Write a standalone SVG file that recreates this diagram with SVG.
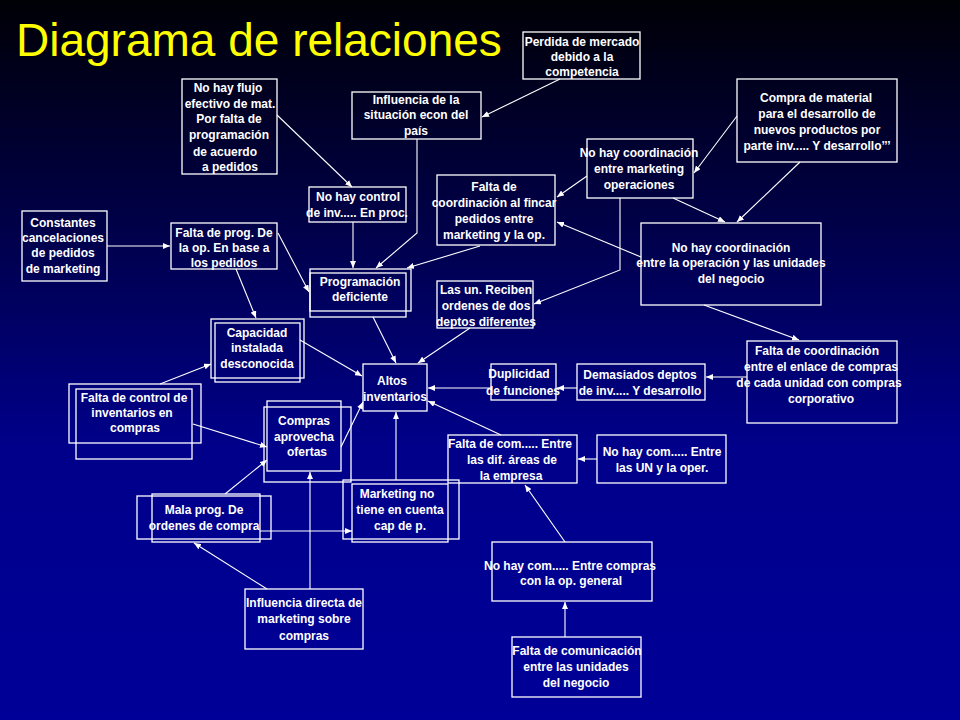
<svg xmlns="http://www.w3.org/2000/svg" width="960" height="720" viewBox="0 0 960 720">
<defs>
<linearGradient id="bg" x1="0" y1="0" x2="0" y2="1">
<stop offset="0" stop-color="#000006"/>
<stop offset="0.62" stop-color="#00008a"/>
<stop offset="1" stop-color="#000098"/>
</linearGradient>
<marker id="ah" markerUnits="userSpaceOnUse" markerWidth="7" markerHeight="6" refX="7" refY="3" orient="auto">
<path d="M0,0 L7,3 L0,6 z" fill="#ffffff"/>
</marker>
<style>
.box{fill:none;stroke:#ffffff;stroke-width:1.3}
.t{font-family:"Liberation Sans",Arial,sans-serif;font-size:12px;font-weight:bold;fill:#ffffff;text-anchor:middle}
.c{fill:none;stroke:#ffffff;stroke-width:1.1;marker-end:url(#ah)}
.title{font-family:"Liberation Sans",Arial,sans-serif;font-size:46px;fill:#ffff00}
</style>
</defs>
<rect x="0" y="0" width="960" height="720" fill="url(#bg)"/>
<g id="title"><text class="title" x="16" y="56">Diagrama de relaciones</text></g>

<g id="n-perdida"><rect class="box" x="523" y="32" width="117" height="47"/>
<text class="t" x="582" y="46">Perdida de mercado</text><text class="t" x="582" y="61">debido a la</text><text class="t" x="582" y="76">competencia</text></g>

<g id="n-influencia-situacion"><rect class="box" x="352" y="92" width="129" height="47"/>
<text class="t" x="416" y="104">Influencia de la</text><text class="t" x="416" y="119">situación econ del</text><text class="t" x="416" y="135">país</text></g>

<g id="n-flujo"><rect class="box" x="182" y="79" width="95" height="95"/>
<text class="t" x="228" y="92">No hay flujo</text><text class="t" x="230" y="108">efectivo de mat.</text><text class="t" x="229" y="123">Por falta de</text><text class="t" x="229" y="139">programación</text><text class="t" x="225" y="156">de acuerdo</text><text class="t" x="230" y="171">a pedidos</text></g>

<g id="n-control-inv"><rect class="box" x="309" y="187" width="97" height="35"/>
<text class="t" x="358" y="201">No hay control</text><text class="t" x="357" y="217">de inv..... En proc.</text></g>

<g id="n-coord-fincar"><rect class="box" x="437" y="175" width="118" height="70"/>
<text class="t" x="494" y="191">Falta de</text><text class="t" x="494" y="207">coordinación  al fincar</text><text class="t" x="494" y="223">pedidos entre</text><text class="t" x="494" y="239">marketing y la op.</text></g>

<g id="n-coord-mkt-op"><rect class="box" x="587" y="139" width="106" height="59"/>
<text class="t" x="639" y="157">No hay coordinación</text><text class="t" x="639" y="173">entre marketing</text><text class="t" x="639" y="189">operaciones</text></g>

<g id="n-compra-material"><rect class="box" x="737" y="79" width="160" height="83"/>
<text class="t" x="816" y="102">Compra de material</text><text class="t" x="817" y="118">para el desarrollo de</text><text class="t" x="817" y="134">nuevos productos por</text><text class="t" x="817" y="150">parte inv..... Y desarrollo’’’</text></g>

<g id="n-coord-op-un"><rect class="box" x="641" y="223" width="180" height="82"/>
<text class="t" x="731" y="252">No hay coordinación</text><text class="t" x="731" y="267">entre la operación y las unidades</text><text class="t" x="731" y="283">del negocio</text></g>

<g id="n-constantes"><rect class="box" x="22" y="211" width="85" height="70"/>
<text class="t" x="63" y="227">Constantes</text><text class="t" x="63" y="242">cancelaciones</text><text class="t" x="63" y="257">de pedidos</text><text class="t" x="63" y="273">de marketing</text></g>

<g id="n-falta-prog"><rect class="box" x="171" y="223" width="106" height="46"/>
<text class="t" x="224" y="237">Falta de prog. De</text><text class="t" x="224" y="252">la op. En base a</text><text class="t" x="224" y="267">los pedidos</text></g>

<g id="n-programacion"><rect class="box" x="310" y="269" width="101" height="42"/><rect class="box" x="310" y="273" width="96" height="44"/>
<text class="t" x="360" y="286">Programación</text><text class="t" x="360" y="301">deficiente</text></g>

<g id="n-capacidad"><rect class="box" x="211" y="319" width="93" height="59"/><rect class="box" x="215" y="323" width="85" height="59"/>
<text class="t" x="257" y="337">Capacidad</text><text class="t" x="257" y="352">instalada</text><text class="t" x="257" y="368">desconocida</text></g>

<g id="n-las-un"><rect class="box" x="437" y="281" width="96" height="47"/>
<text class="t" x="486" y="294">Las un. Reciben</text><text class="t" x="486" y="310">ordenes de dos</text><text class="t" x="486" y="326">deptos diferentes</text></g>

<g id="n-altos"><rect class="box" x="363" y="364" width="64" height="47"/>
<text class="t" x="392" y="385">Altos</text><text class="t" x="395" y="401">inventarios</text></g>

<g id="n-duplicidad"><rect class="box" x="491" y="364" width="65" height="36"/>
<text class="t" x="519" y="378">Duplicidad</text><text class="t" x="523" y="395">de funciones</text></g>

<g id="n-demasiados"><rect class="box" x="577" y="364" width="128" height="36"/>
<text class="t" x="640" y="379">Demasiados deptos</text><text class="t" x="640" y="395">de inv..... Y desarrollo</text></g>

<g id="n-coord-enlace"><rect class="box" x="747" y="341" width="150" height="82"/>
<text class="t" x="817" y="355">Falta de coordinación</text><text class="t" x="821" y="371">entre el enlace de compras</text><text class="t" x="819" y="387">de cada unidad con compras</text><text class="t" x="821" y="403">corporativo</text></g>

<g id="n-control-compras"><rect class="box" x="69" y="384" width="132" height="59"/><rect class="box" x="76" y="389" width="116" height="70"/>
<text class="t" x="134" y="402">Falta de control de</text><text class="t" x="132" y="417">inventarios en</text><text class="t" x="135" y="432">compras</text></g>

<g id="n-compras-ofertas"><rect class="box" x="267" y="401" width="74" height="70"/><rect class="box" x="264" y="407" width="87" height="75"/>
<text class="t" x="304" y="425">Compras</text><text class="t" x="304" y="441">aprovecha</text><text class="t" x="307" y="456">ofertas</text></g>

<g id="n-mala-prog"><rect class="box" x="137" y="496" width="134" height="43"/><rect class="box" x="152" y="494" width="108" height="48"/>
<text class="t" x="204" y="514">Mala prog. De</text><text class="t" x="204" y="530">ordenes de compra</text></g>

<g id="n-marketing-cap"><rect class="box" x="343" y="480" width="116" height="59"/><rect class="box" x="352" y="484" width="96" height="58"/>
<text class="t" x="397" y="498">Marketing no</text><text class="t" x="400" y="514">tiene en  cuenta</text><text class="t" x="400" y="530">cap de p.</text></g>

<g id="n-influencia-directa"><rect class="box" x="245" y="589" width="118" height="60"/>
<text class="t" x="304" y="607">Influencia directa de</text><text class="t" x="304" y="623">marketing sobre</text><text class="t" x="304" y="640">compras</text></g>

<g id="n-com-areas"><rect class="box" x="448" y="435" width="129" height="48"/>
<text class="t" x="510" y="448">Falta de com..... Entre</text><text class="t" x="512" y="464">las dif. áreas de</text><text class="t" x="511" y="480">la empresa</text></g>

<g id="n-com-un"><rect class="box" x="597" y="435" width="129" height="48"/>
<text class="t" x="662" y="456">No hay com..... Entre</text><text class="t" x="662" y="472">las UN y la oper.</text></g>

<g id="n-com-compras"><rect class="box" x="492" y="542" width="160" height="59"/>
<text class="t" x="570" y="570">No hay com..... Entre compras</text><text class="t" x="571" y="585">con la op. general</text></g>

<g id="n-comunicacion"><rect class="box" x="512" y="637" width="129" height="60"/>
<text class="t" x="577" y="655">Falta de comunicación</text><text class="t" x="576" y="671">entre las unidades</text><text class="t" x="576" y="687">del negocio</text></g>

<g id="connectors">
<line class="c" x1="560" y1="79" x2="482" y2="117"/>
<line class="c" x1="277" y1="115" x2="352" y2="187"/>
<polyline class="c" points="417,139 417,233 376,268"/>
<line class="c" x1="353" y1="222" x2="353" y2="268"/>
<line class="c" x1="480" y1="246" x2="407" y2="268"/>
<line class="c" x1="587" y1="176" x2="557" y2="197"/>
<polyline class="c" points="620,198 620,270 534,304"/>
<line class="c" x1="673" y1="198" x2="725" y2="222"/>
<line class="c" x1="800" y1="162" x2="737" y2="222"/>
<line class="c" x1="737" y1="116" x2="694" y2="173"/>
<line class="c" x1="641" y1="257" x2="557" y2="222"/>
<line class="c" x1="704" y1="305" x2="799" y2="340"/>
<line class="c" x1="747" y1="377" x2="706" y2="377"/>
<line class="c" x1="577" y1="388" x2="557" y2="388"/>
<line class="c" x1="491" y1="388" x2="428" y2="388"/>
<line class="c" x1="470" y1="328" x2="418" y2="363"/>
<line class="c" x1="373" y1="317" x2="396" y2="363"/>
<line class="c" x1="300" y1="340" x2="362" y2="376"/>
<line class="c" x1="278" y1="233" x2="309" y2="292"/>
<line class="c" x1="236" y1="269" x2="256" y2="318"/>
<line class="c" x1="107" y1="246" x2="170" y2="246"/>
<line class="c" x1="160" y1="384" x2="211" y2="364"/>
<line class="c" x1="193" y1="424" x2="267" y2="447"/>
<line class="c" x1="341" y1="447" x2="363" y2="402"/>
<line class="c" x1="396" y1="480" x2="396" y2="412"/>
<line class="c" x1="501" y1="435" x2="428" y2="401"/>
<line class="c" x1="225" y1="494" x2="267" y2="460"/>
<line class="c" x1="260" y1="531" x2="352" y2="531"/>
<line class="c" x1="310" y1="589" x2="310" y2="472"/>
<line class="c" x1="267" y1="589" x2="194" y2="543"/>
<line class="c" x1="597" y1="459" x2="578" y2="459"/>
<line class="c" x1="565" y1="542" x2="525" y2="485"/>
<line class="c" x1="565" y1="637" x2="565" y2="602"/>
</g>
</svg>
